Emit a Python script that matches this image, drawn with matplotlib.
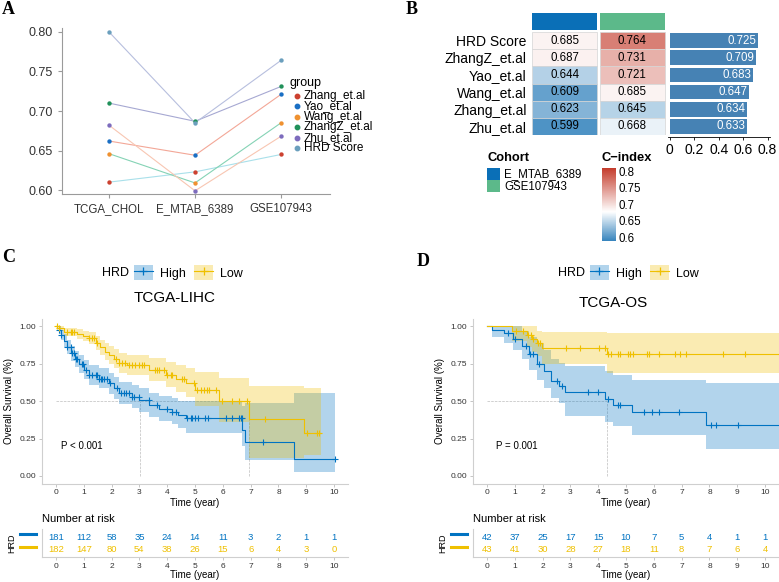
import numpy as np
import matplotlib
matplotlib.use('Agg')
import matplotlib.pyplot as plt
from matplotlib.colors import LinearSegmentedColormap, Normalize
from matplotlib.patches import Patch
from matplotlib.lines import Line2D
import matplotlib.cm as cm

plt.rcParams['font.family'] = ['Liberation Sans', 'DejaVu Sans']

W, H = 779, 582

# ---------------- panel A data
cohorts = ['TCGA_CHOL', 'E_MTAB_6389', 'GSE107943']
models = ['Zhang_et.al', 'Yao_et.al', 'Wang_et.al', 'ZhangZ_et.al', 'Zhu_et.al', 'HRD Score']
cidx_tcga = [0.610, 0.662, 0.646, 0.710, 0.682, 0.800]
cidx_emtab = [0.623, 0.644, 0.609, 0.687, 0.599, 0.685]
cidx_gse = [0.645, 0.721, 0.685, 0.731, 0.668, 0.764]
point_colors = ['#cc4130', '#1a6fc4', '#ef9130', '#21915a', '#7d6cbd', '#6b9fbd']
line_colors = ['#a9e0ea', '#f3a797', '#85d3b5', '#a6a8d2', '#f8c6b2', '#b7bfde']

# ---------------- panel B data
heat_rows = ['HRD Score', 'ZhangZ_et.al', 'Yao_et.al', 'Wang_et.al', 'Zhang_et.al', 'Zhu_et.al']
heat_emtab = [0.685, 0.687, 0.644, 0.609, 0.623, 0.599]
heat_gse = [0.764, 0.731, 0.721, 0.685, 0.645, 0.668]
bar_mean = [0.725, 0.709, 0.683, 0.647, 0.634, 0.633]
cohort_names = ['E_MTAB_6389', 'GSE107943']
cohort_colors = ['#0a6fb7', '#5cb98a']

# ---------------- panel C data (TCGA-LIHC)
c_hi_t = [0, 0.1, 0.2, 0.3, 0.41, 0.55, 0.7, 0.83, 1.0, 1.19, 1.55, 1.9, 2.1, 2.27, 2.73, 3.0,
          3.35, 3.7, 4.17, 4.4, 4.66, 6.7, 6.8, 8.56]
c_hi_s = [1.0, 0.975, 0.94, 0.90, 0.862, 0.82, 0.78, 0.75, 0.71, 0.673, 0.65, 0.62, 0.585, 0.553,
          0.53, 0.505, 0.473, 0.45, 0.43, 0.405, 0.384, 0.307, 0.227, 0.113]
c_hi_lo = [1.0, 0.95, 0.905, 0.86, 0.815, 0.77, 0.725, 0.69, 0.65, 0.61, 0.585, 0.55, 0.515, 0.48,
           0.455, 0.43, 0.395, 0.37, 0.35, 0.32, 0.287, 0.2, 0.107, 0.027]
c_hi_up = [1.0, 1.0, 0.975, 0.945, 0.91, 0.87, 0.835, 0.81, 0.775, 0.74, 0.72, 0.69, 0.66, 0.63,
           0.61, 0.585, 0.555, 0.535, 0.52, 0.50, 0.50, 0.47, 0.49, 0.553]
c_hi_end = 10.05
c_hi_cens = [0.11, 0.2, 0.41, 0.53, 0.59, 0.65, 0.71, 0.77, 0.92, 0.98, 1.07, 1.19, 1.31, 1.43,
             1.49, 1.55, 1.61, 1.67, 1.73, 1.85, 1.93, 2.21, 2.33, 2.45, 2.53, 2.62, 2.74, 2.8,
             2.98, 3.34, 3.64, 4.0, 4.18, 4.3, 4.7, 4.84, 4.9, 5.0, 5.12, 5.36, 5.48, 6.1, 6.34,
             6.58, 6.64, 6.69, 7.45, 10.04]
c_lo_t = [0, 0.1, 0.3, 0.75, 0.98, 1.19, 1.43, 1.6, 1.75, 1.9, 2.1, 2.27, 2.55, 3.35, 3.95, 4.3,
          4.66, 5.0, 5.86, 6.94, 8.92]
c_lo_s = [1.0, 0.985, 0.962, 0.95, 0.935, 0.92, 0.887, 0.86, 0.83, 0.807, 0.78, 0.753, 0.74, 0.707,
          0.673, 0.645, 0.62, 0.573, 0.502, 0.38, 0.289]
c_lo_lo = [1.0, 0.965, 0.935, 0.915, 0.9, 0.88, 0.84, 0.81, 0.775, 0.75, 0.72, 0.69, 0.675, 0.635,
           0.595, 0.56, 0.53, 0.47, 0.36, 0.12, 0.14]
c_lo_up = [1.0, 1.0, 0.99, 0.98, 0.97, 0.96, 0.935, 0.91, 0.885, 0.865, 0.845, 0.82, 0.81, 0.787,
           0.76, 0.74, 0.72, 0.693, 0.653, 0.602, 0.59]
c_lo_end = 9.52
c_lo_cens = [0.05, 0.11, 0.41, 0.53, 0.59, 0.65, 1.19, 1.31, 1.37, 1.49, 2.15, 2.27, 2.39, 2.5,
             2.62, 2.74, 2.86, 2.98, 3.1, 3.16, 3.58, 3.64, 3.7, 3.88, 4.0, 4.12, 4.18, 4.54,
             4.62, 4.96, 5.08, 5.2, 5.32, 5.44, 5.5, 5.74, 5.98, 6.32, 6.58, 6.88, 7.51, 9.03,
             9.37, 9.45]
c_risk_hi = [181, 112, 58, 35, 24, 14, 11, 3, 2, 1, 1]
c_risk_lo = [182, 147, 80, 54, 38, 26, 15, 6, 4, 3, 0]
c_median = [3.03, 6.94]

# ---------------- panel D data (TCGA-OS)
d_hi_t = [0, 0.17, 0.6, 0.95, 1.25, 1.5, 1.79, 2.05, 2.3, 2.6, 2.82, 4.26, 4.55, 5.22, 7.87]
d_hi_s = [1.0, 0.976, 0.952, 0.913, 0.87, 0.813, 0.747, 0.70, 0.635, 0.60, 0.558, 0.513, 0.473,
          0.424, 0.34]
d_hi_lo = [1.0, 0.93, 0.89, 0.84, 0.78, 0.71, 0.64, 0.59, 0.52, 0.49, 0.40, 0.36, 0.333, 0.275, 0.18]
d_hi_up = [1.0, 1.0, 1.0, 1.0, 0.97, 0.93, 0.88, 0.84, 0.78, 0.755, 0.735, 0.70, 0.673, 0.64, 0.618]
d_hi_end = 10.5
d_hi_cens = [0.77, 1.01, 1.41, 1.55, 1.65, 1.89, 2.52, 2.70, 3.63, 3.98, 4.34, 4.70, 4.80, 5.63,
             5.94, 6.20, 6.92, 8.07, 8.23, 9.01]
d_lo_t = [0, 0.89, 1.43, 1.62, 1.8, 1.99, 4.31]
d_lo_s = [1.0, 0.965, 0.94, 0.913, 0.887, 0.853, 0.813]
d_lo_lo = [1.0, 0.90, 0.86, 0.83, 0.80, 0.745, 0.69]
d_lo_up = [1.0, 1.0, 1.0, 1.0, 0.97, 0.96, 0.951]
d_lo_end = 10.5
d_lo_cens = [1.05, 1.31, 1.47, 1.58, 1.67, 1.85, 1.91, 2.84, 3.33, 4.04, 4.24, 4.34, 4.46, 4.72,
             4.80, 5.08, 5.16, 5.26, 5.74, 5.82, 6.19, 6.75, 6.94, 7.15, 8.49, 9.29]
d_risk_hi = [42, 37, 25, 17, 15, 10, 7, 5, 4, 1, 1]
d_risk_lo = [43, 41, 30, 28, 27, 18, 11, 8, 7, 6, 4]
d_median = [4.30]

years = list(range(11))
blue = '#0073C2'
yellow = '#EFC000'


def add_ax(x0, y0, x1, y1):
    return fig.add_axes([x0 / W, 1 - y1 / H, (x1 - x0) / W, (y1 - y0) / H])


def fx(x):
    return x / W


def fy(y):
    return 1 - y / H


fig = plt.figure(figsize=(W / 100, H / 100), dpi=100)

# panel letters
for letter, x, y in [('A', 2, 10), ('B', 406, 10), ('C', 2, 257), ('D', 417, 262)]:
    fig.text(fx(x), fy(y), letter, fontsize=13, fontweight='bold', family='Liberation Serif',
             ha='left', va='center')

# ================= A
axA = add_ax(62, 28, 330, 194)
for i, m in enumerate(models):
    ys = [cidx_tcga[i], cidx_emtab[i], cidx_gse[i]]
    axA.plot(range(3), ys, color=line_colors[i], lw=0.8, zorder=1)
for i, m in enumerate(models):
    ys = [cidx_tcga[i], cidx_emtab[i], cidx_gse[i]]
    axA.scatter(range(3), ys, color=point_colors[i], s=10, zorder=3, linewidths=0)
axA.set_xlim(-0.547, 2.57)
axA.set_ylim(0.595, 0.805)
axA.set_xticks(range(3))
axA.set_xticklabels(cohorts, fontsize=8.3, color='#333333')
axA.set_yticks([0.6, 0.65, 0.7, 0.75, 0.8])
axA.set_yticklabels(['0.60', '0.65', '0.70', '0.75', '0.80'], fontsize=9, color='#333333')
for s in ['top', 'right']:
    axA.spines[s].set_visible(False)
for s in ['left', 'bottom']:
    axA.spines[s].set_color('#9a9a9a')
    axA.spines[s].set_linewidth(0.8)
axA.tick_params(colors='#9a9a9a', length=3, width=0.8, labelcolor='#333333')

fig.text(fx(290), fy(83), 'group', fontsize=9, ha='left', va='center')
for i, m in enumerate(models):
    yy = 95.7 + i * 10.5
    fig.add_artist(Line2D([fx(297)], [fy(yy)], marker='o', ms=3.2, color=point_colors[i],
                          ls='', transform=fig.transFigure))
    fig.text(fx(304), fy(yy), m, fontsize=8.5, ha='left', va='center')

# ================= B
cmap = LinearSegmentedColormap.from_list(
    'cidx', [(0.0, '#3684bd'), ((0.677 - 0.588) / (0.811 - 0.588), '#ffffff'), (1.0, '#c43c2c')])
norm = Normalize(vmin=0.588, vmax=0.811)

axH = add_ax(531, 32, 666, 135)
nrow = len(heat_rows)
for j, col in enumerate([heat_emtab, heat_gse]):
    for i, v in enumerate(col):
        yb = nrow - 1 - i
        axH.bar(j + 0.5, 1, bottom=yb, width=0.96, color=cmap(norm(v)), edgecolor='#d5d5d5',
                linewidth=0.5)
        axH.text(j + 0.5, yb + 0.5, f'{v:.3f}', ha='center', va='center', fontsize=8.3)
axH.set_xlim(0, 2)
axH.set_ylim(0, nrow)
axH.set_yticks([nrow - 1 - i + 0.5 for i in range(nrow)])
axH.set_yticklabels(heat_rows, fontsize=10)
axH.tick_params(length=0, pad=3, labelbottom=False, bottom=False)
for s in axH.spines.values():
    s.set_visible(False)

axT = add_ax(531, 13, 666, 30)
for j, c in enumerate(cohort_colors):
    axT.bar(j + 0.5, 1, width=0.96, color=c)
axT.set_xlim(0, 2)
axT.set_ylim(0, 1)
axT.axis('off')

axBar = add_ax(668, 32, 770, 135)
ypos = [nrow - 1 - i + 0.5 for i in range(nrow)]
axBar.barh(ypos, bar_mean, height=0.86, color='#4682b4')
for yv, v in zip(ypos, bar_mean):
    axBar.text(v - 0.015, yv, f'{v:.3f}', ha='right', va='center', fontsize=8.3, color='white')
axBar.set_xlim(-0.015, 0.82)
axBar.set_ylim(0, nrow)
axBar.set_yticks([])
axBar.set_xticks([0, 0.2, 0.4, 0.6, 0.8])
axBar.set_xticklabels(['0', '0.2', '0.4', '0.6', '0.8'], fontsize=8.3)
for s in ['top', 'right', 'left']:
    axBar.spines[s].set_visible(False)
axBar.spines['bottom'].set_position(('outward', 1.5))
axBar.spines['bottom'].set_linewidth(0.6)
axBar.tick_params(axis='x', length=2.5, width=0.6, pad=1.5)

# legends of B
fig.text(fx(487), fy(158), 'Cohort', fontsize=9.3, fontweight='bold', ha='left', va='center')
axCo = add_ax(487, 168, 500, 192)
for j, c in enumerate(cohort_colors):
    axCo.bar(0.5, 1, bottom=1 - j, width=1, color=c)
axCo.set_xlim(0, 1)
axCo.set_ylim(0, 2)
axCo.axis('off')
for j, name in enumerate(cohort_names):
    fig.text(fx(504), fy(174 + j * 12.5), name, fontsize=8.3, ha='left', va='center')

fig.text(fx(602), fy(158), 'C\u2212index', fontsize=9.3, fontweight='bold', ha='left', va='center')
cax = add_ax(602, 168, 616, 241)
cb = fig.colorbar(cm.ScalarMappable(norm=norm, cmap=cmap), cax=cax)
cb.outline.set_visible(False)
cb.set_ticks([0.6, 0.65, 0.7, 0.75, 0.8])
cb.set_ticklabels(['0.6', '0.65', '0.7', '0.75', '0.8'])
cb.ax.tick_params(length=0, labelsize=8.3, pad=2)


# ================= C and D
def km_curve(ax, t, s, lo, up, end, cens, color):
    te = np.append(t, end)
    ax.fill_between(te, np.append(lo, lo[-1]), np.append(up, up[-1]), step='post',
                    color=color, alpha=0.3, linewidth=0)
    ax.step(te, np.append(s, s[-1]), where='post', color=color, lw=0.8)
    idx = np.searchsorted(t, cens, side='right') - 1
    ax.plot(cens, np.asarray(s)[idx], ls='', marker='+', ms=4.5, mew=0.8, color=color)


def style_axis(ax):
    ax.tick_params(labelsize=6, colors='#bbbbbb', labelcolor='#333333', length=2.5, width=0.6,
                   pad=1.5)
    for sp in ['top', 'right']:
        ax.spines[sp].set_visible(False)
    for sp in ['left', 'bottom']:
        ax.spines[sp].set_color('#cfcfcf')
        ax.spines[sp].set_linewidth(0.8)


def km_panel(x0, curves, medians, title, ptext, px_p, risk_hi, risk_lo, title_xy, leg_x):
    x1 = x0 + 306
    ax = add_ax(x0, 318.5, x1, 483.5)
    for c, col in zip(curves, [blue, yellow]):
        km_curve(ax, *c, col)
    ax.plot([0, max(medians)], [0.5, 0.5], ls='--', color='#bdbdbd', lw=0.5, zorder=0)
    for m in medians:
        ax.plot([m, m], [0, 0.5], ls='--', color='#bdbdbd', lw=0.5, zorder=0)
    ax.set_xlim(-0.5, 10.5)
    ax.set_ylim(-0.05, 1.05)
    ax.set_xticks(years)
    ax.set_yticks([0, 0.25, 0.5, 0.75, 1.0])
    ax.set_yticklabels(['0.00', '0.25', '0.50', '0.75', '1.00'])
    style_axis(ax)
    ax.set_xlabel('Time (year)', fontsize=7, labelpad=1.5)
    ax.set_ylabel('Overall Survival (%)', fontsize=7, labelpad=4)
    ax.text(px_p, 0.2, ptext, fontsize=7, ha='left', va='center')

    fig.text(fx(title_xy[0]), fy(title_xy[1]), title, fontsize=11, ha='center', va='center')
    fig.text(fx(leg_x), fy(272.5), 'HRD', fontsize=9, ha='left', va='center')
    hs = []
    for col in [blue, yellow]:
        hs.append((Patch(facecolor=col, alpha=0.3, edgecolor='none'),
                   Line2D([], [], color=col, marker='+', lw=0.8, ms=6, mew=0.9)))
    fig.legend(handles=hs, labels=['High', 'Low'], ncol=2, loc='center left',
               bbox_to_anchor=(fx(leg_x + 32), fy(272.5)), frameon=False, handlelength=1.5,
               handleheight=1.5, columnspacing=0.7, handletextpad=0.55, fontsize=9,
               borderpad=0, borderaxespad=0)

    # risk table
    fig.text(fx(x0), fy(519), 'Number at risk', fontsize=8, ha='left', va='center')
    tab = add_ax(x0, 529, x1, 557)
    for xv, n in zip(years, risk_hi):
        tab.text(xv, 0.7, str(n), color=blue, fontsize=6.8, ha='center', va='center')
    for xv, n in zip(years, risk_lo):
        tab.text(xv, 0.28, str(n), color=yellow, fontsize=6.8, ha='center', va='center')
    tab.set_xlim(-0.5, 10.5)
    tab.set_ylim(0, 1)
    tab.set_xticks(years)
    tab.set_yticks([])
    style_axis(tab)
    tab.set_xlabel('Time (year)', fontsize=7, labelpad=0.5)
    fig.text(fx(x0 - 30), fy(543), 'HRD', fontsize=6.5, rotation=90, ha='center', va='center')
    for yy, col in [(533.7, blue), (546.7, yellow)]:
        fig.add_artist(Line2D([fx(x0 - 22), fx(x0 - 6)], [fy(yy), fy(yy)], color=col, lw=2.2,
                              transform=fig.transFigure))


km_panel(42,
         [(c_hi_t, c_hi_s, c_hi_lo, c_hi_up, c_hi_end, c_hi_cens),
          (c_lo_t, c_lo_s, c_lo_lo, c_lo_up, c_lo_end, c_lo_cens)],
         c_median, 'TCGA-LIHC', 'P < 0.001', 0.18, c_risk_hi, c_risk_lo, (175, 298), 102)
km_panel(473,
         [(d_hi_t, d_hi_s, d_hi_lo, d_hi_up, d_hi_end, d_hi_cens),
          (d_lo_t, d_lo_s, d_lo_lo, d_lo_up, d_lo_end, d_lo_cens)],
         d_median, 'TCGA-OS', 'P = 0.001', 0.32, d_risk_hi, d_risk_lo, (613, 303), 558)

fig.savefig('out.png', dpi=100)
